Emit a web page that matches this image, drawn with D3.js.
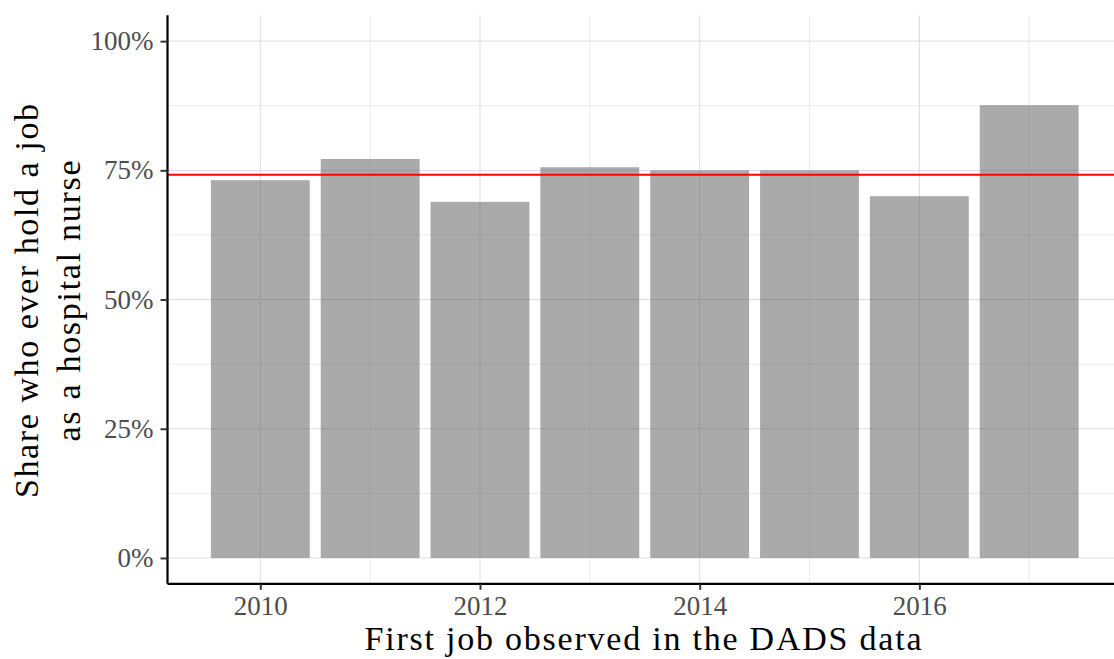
<!DOCTYPE html>
<html>
<head>
<meta charset="utf-8">
<script src="https://cdn.jsdelivr.net/npm/d3@7"></script>
<style>
  body { margin: 0; background: #fff; }
  text { font-family: "Liberation Serif", "DejaVu Serif", serif; }
</style>
</head>
<body>
<div id="chart"></div>
<script>
const width = 1114;
const height = 659;

// data
const years = [2010, 2011, 2012, 2013, 2014, 2015, 2016, 2017];
const shares = [0.731, 0.772, 0.689, 0.756, 0.750, 0.750, 0.700, 0.876];
const meanShare = 0.7415;
const xTicks = [2010, 2012, 2014, 2016];
const xMinor = [2011, 2013, 2015, 2017];
const yTicks = [0, 0.25, 0.5, 0.75, 1];
const yMinor = [0.125, 0.375, 0.625, 0.875];

const data = years.map((y, i) => ({ year: y, share: shares[i] }));

const margin = { left: 167.5, right: -8, top: 15.3, bottom: 75.2 };
const barWidth = 0.9;

const svg = d3.select("#chart").append("svg")
  .attr("width", width)
  .attr("height", height);

// ggplot style 5% expansion
const xLo = d3.min(years) - barWidth / 2, xHi = d3.max(years) + barWidth / 2;
const xPad = (xHi - xLo) * 0.05;
const x = d3.scaleLinear()
  .domain([xLo - xPad, xHi + xPad])
  .range([margin.left, width - margin.right]);

const y = d3.scaleLinear()
  .domain([-0.05, 1.05])
  .range([height - margin.bottom, margin.top]);

const grid = svg.append("g");

// minor grid
grid.selectAll(".ymin").data(yMinor).enter().append("line")
  .attr("x1", margin.left).attr("x2", width)
  .attr("y1", d => y(d)).attr("y2", d => y(d))
  .attr("stroke", "#e3e3e3").attr("stroke-width", 0.7);
grid.selectAll(".xmin").data(xMinor).enter().append("line")
  .attr("x1", d => x(d)).attr("x2", d => x(d))
  .attr("y1", margin.top).attr("y2", height - margin.bottom)
  .attr("stroke", "#e3e3e3").attr("stroke-width", 0.7);

// major grid
grid.selectAll(".ymaj").data(yTicks).enter().append("line")
  .attr("x1", margin.left).attr("x2", width)
  .attr("y1", d => y(d)).attr("y2", d => y(d))
  .attr("stroke", "#dcdcdc").attr("stroke-width", 1);
grid.selectAll(".xmaj").data(xTicks).enter().append("line")
  .attr("x1", d => x(d)).attr("x2", d => x(d))
  .attr("y1", margin.top).attr("y2", height - margin.bottom)
  .attr("stroke", "#dcdcdc").attr("stroke-width", 1);

// bars (semi-transparent so the grid shows through)
svg.selectAll("rect.bar")
  .data(data)
  .enter().append("rect")
  .attr("class", "bar")
  .attr("x", d => x(d.year - barWidth / 2))
  .attr("width", d => x(d.year + barWidth / 2) - x(d.year - barWidth / 2))
  .attr("y", d => y(d.share))
  .attr("height", d => y(0) - y(d.share))
  .attr("fill", "#555555")
  .attr("fill-opacity", 0.5);

// mean line
svg.append("line")
  .attr("x1", margin.left).attr("x2", width)
  .attr("y1", y(meanShare)).attr("y2", y(meanShare))
  .attr("stroke", "#ff0000").attr("stroke-width", 2);

// axes
const xAxis = svg.append("g")
  .attr("transform", `translate(0,${height - margin.bottom})`)
  .call(d3.axisBottom(x).tickValues(xTicks).tickFormat(d3.format("d")).tickSize(6).tickPadding(6));
const yAxis = svg.append("g")
  .attr("transform", `translate(${margin.left},0)`)
  .call(d3.axisLeft(y).tickValues(yTicks).tickFormat(d3.format(".0%")).tickSize(7).tickPadding(7));

[xAxis, yAxis].forEach(ax => {
  ax.select(".domain").attr("stroke", "#000").attr("stroke-width", 2.2);
  ax.selectAll(".tick line").attr("stroke", "#333").attr("stroke-width", 2);
  ax.selectAll(".tick text")
    .attr("fill", "#4d4d4d")
    .style("font-size", "27px")
    .style("font-family", "'Liberation Serif', serif");
});
xAxis.select(".domain").attr("d", `M${margin.left},0H${width}`);
yAxis.select(".domain").attr("d", `M0,${margin.top}V${height - margin.bottom}`);

// axis titles
svg.append("text")
  .attr("x", 643)
  .attr("y", 650)
  .attr("text-anchor", "middle")
  .attr("textLength", 557)
  .attr("lengthAdjust", "spacing")
  .style("font-size", "34px")
  .text("First job observed in the DADS data");

const yTitle = svg.append("text")
  .attr("transform", "translate(0,301) rotate(-90)")
  .attr("text-anchor", "middle")
  .style("font-size", "34px");
yTitle.append("tspan").attr("x", 0).attr("y", 38)
  .attr("textLength", 394).attr("lengthAdjust", "spacing")
  .text("Share who ever hold a job");
yTitle.append("tspan").attr("x", 0).attr("y", 80)
  .attr("textLength", 281).attr("lengthAdjust", "spacing")
  .text("as a hospital nurse");
</script>
</body>
</html>
